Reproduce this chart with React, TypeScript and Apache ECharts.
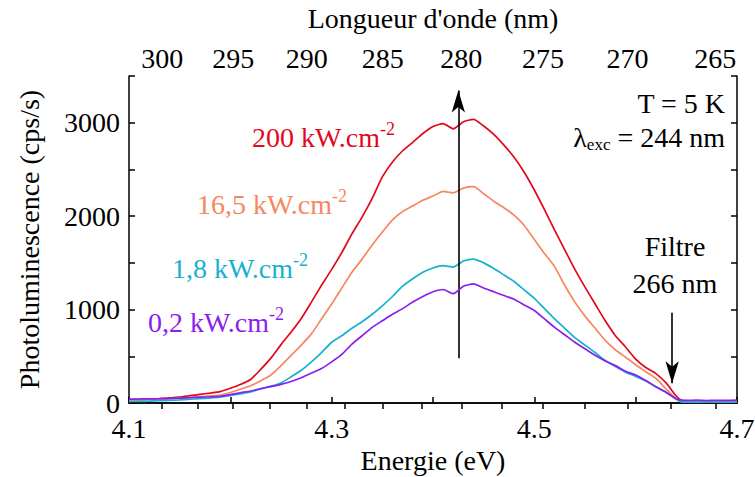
import React, { useEffect, useRef } from 'react';
import * as echarts from 'echarts';

// Photon energy grid (eV)
const energies: number[] = [
  4.10, 4.11, 4.12, 4.13, 4.14, 4.15, 4.16, 4.17, 4.18, 4.19,
  4.20, 4.21, 4.22, 4.23, 4.24, 4.25, 4.26, 4.27, 4.28, 4.29,
  4.30, 4.31, 4.32, 4.33, 4.34, 4.35, 4.36, 4.37, 4.38, 4.39,
  4.40, 4.41, 4.42, 4.43, 4.44, 4.45, 4.46, 4.47, 4.48, 4.49,
  4.50, 4.51, 4.52, 4.53, 4.54, 4.55, 4.56, 4.57, 4.58, 4.59,
  4.60, 4.61, 4.62, 4.63, 4.64, 4.645, 4.65, 4.66, 4.67, 4.68,
  4.69, 4.70,
];

// Photoluminescence (cps/s) for each excitation power density
const pl200: number[] = [
  35, 37, 42, 47, 55, 64, 78, 92, 106, 122,
  158, 198, 252, 360, 480, 625, 760, 905, 1080, 1260,
  1430, 1610, 1810, 1990, 2190, 2420, 2580, 2700, 2790, 2885,
  2960, 2990, 2935, 3010, 3035, 2965, 2875, 2760, 2630, 2470,
  2280, 2070, 1850, 1640, 1430, 1240, 1060, 880, 720, 600,
  470, 380, 315, 215, 75, 28, 22, 20, 23, 20,
  22, 20,
];
const pl165: number[] = [
  30, 32, 35, 39, 45, 51, 59, 67, 76, 86,
  112, 148, 185, 238, 300, 400, 510, 620, 740, 900,
  1060, 1230, 1400, 1540, 1690, 1830, 1960, 2050, 2110, 2170,
  2215, 2265, 2250, 2300, 2315, 2240, 2160, 2090, 2010, 1900,
  1750, 1600, 1460, 1260, 1080, 930, 800, 670, 570, 490,
  410, 335, 265, 150, 45, 18, 15, 14, 16, 15,
  14, 15,
];
const pl18: number[] = [
  15, 17, 20, 24, 28, 33, 40, 46, 53, 62,
  80, 98, 118, 150, 180, 215, 280, 350, 440, 540,
  650, 720, 800, 870, 950, 1040, 1140, 1250, 1330, 1400,
  1445, 1470, 1455, 1520, 1540, 1500, 1440, 1370, 1300, 1210,
  1120, 1010, 900, 800, 700, 620, 540, 455, 390, 330,
  285, 235, 170, 115, 40, 12, 10, 9, 11, 10,
  9, 10,
];
const pl02: number[] = [
  42, 43, 44, 46, 49, 53, 57, 62, 66, 72,
  90, 110, 128, 155, 175, 200, 230, 270, 320, 370,
  440, 520, 630, 720, 810, 880, 950, 1010, 1080, 1140,
  1190, 1215, 1170, 1250, 1275, 1230, 1190, 1150, 1110, 1050,
  990, 900, 810, 730, 650, 580, 510, 450, 400, 340,
  300, 240, 175, 115, 45, 30, 28, 30, 27, 29,
  28, 30,
];

const seriesNames: string[] = ['200 kW.cm-2', '16,5 kW.cm-2', '1,8 kW.cm-2', '0,2 kW.cm-2'];
const seriesColors: string[] = ['#e3071c', '#f6875f', '#16b1cf', '#8b1df1'];

// Axis ticks
const energyTicks: number[] = [4.1, 4.2, 4.3, 4.4, 4.5, 4.6, 4.7];
const energyLabels: number[] = [4.1, 4.3, 4.5, 4.7];
const yTickValues: number[] = [0, 500, 1000, 1500, 2000, 2500, 3000, 3500];
const wavelengthTicks: number[] = [300, 297.5, 295, 292.5, 290, 287.5, 285, 282.5, 280, 277.5, 275, 272.5, 270, 267.5, 265];
const wavelengthLabels: number[] = [300, 295, 290, 285, 280, 275, 270, 265];
const HC = 1239.84;

// Annotation arrows (energy, intensity)
const mainArrow: number[][] = [[4.425, 480], [4.425, 3345]];
const filterArrow: number[][] = [[4.636, 965], [4.636, 212]];

const FONT = 'Liberation Serif';
const FS = 28;

export default function App() {
  const ref = useRef<HTMLDivElement>(null);
  useEffect(() => {
    if (!ref.current) return;
    const chart = echarts.init(ref.current, null, { renderer: 'svg' });
    const all = [pl200, pl165, pl18, pl02];
    const axisLine = { show: true, lineStyle: { color: '#000', width: 1.5 } };
    const tick = { show: true, inside: true, length: 6, lineStyle: { color: '#000', width: 1.5 } };
    const labelStyle = { fontFamily: FONT, fontSize: FS, color: '#000' };
    const supRich = {
      sup: { fontSize: 18, fontFamily: FONT, padding: [0, 0, 16, 0] },
    };
    const labelText = (t: string) => t.replace(/-2$/, '{sup|-2}');
    const txt = (text: string, x: number, y: number, fill: string, align: string, extra: any = {}) => ({
      type: 'text', x, y,
      style: { text, fontFamily: FONT, fontSize: FS, fill, align, verticalAlign: 'middle', ...extra },
    });
    const option: any = {
      animation: false,
      backgroundColor: '#ffffff',
      grid: { left: 129, right: 18, top: 76, bottom: 74, containLabel: false, outerBoundsMode: 'none' },
      xAxis: [
        {
          type: 'value', position: 'bottom', min: 4.1, max: 4.7,
          name: 'Energie (eV)', nameLocation: 'middle', nameGap: 40,
          nameTextStyle: { ...labelStyle },
          axisLine, axisTick: { ...tick, customValues: energyTicks },
          axisLabel: { ...labelStyle, lineHeight: 20, margin: 15, customValues: energyLabels, formatter: (v: number) => v.toFixed(1) },
          splitLine: { show: false },
        },
        {
          type: 'value', position: 'top', min: 4.1, max: 4.7,
          name: "Longueur d'onde (nm)", nameLocation: 'middle', nameGap: 44,
          nameTextStyle: { ...labelStyle },
          axisLine, axisTick: { ...tick, customValues: wavelengthTicks.map((w) => HC / w) },
          axisLabel: { ...labelStyle, margin: 4, customValues: wavelengthLabels.map((w) => HC / w), formatter: (v: number) => String(Math.round(HC / v)) },
          splitLine: { show: false },
        },
      ],
      yAxis: [
        {
          type: 'value', position: 'left', min: 0, max: 3500, interval: 500,
          name: 'Photoluminescence (cps/s)', nameLocation: 'middle', nameGap: 86,
          nameTextStyle: { ...labelStyle },
          axisLine, axisTick: { ...tick, customValues: yTickValues },
          axisLabel: { ...labelStyle, lineHeight: 20, margin: 9, formatter: (v: number) => (v % 1000 === 0 ? String(v) : '') },
          splitLine: { show: false },
        },
        {
          type: 'value', position: 'right', min: 0, max: 3500, interval: 500,
          axisLine, axisTick: { ...tick, customValues: yTickValues },
          axisLabel: { show: false },
          splitLine: { show: false },
        },
      ],
      series: [
        ...all.map((vals, i) => ({
          type: 'line', name: seriesNames[i], xAxisIndex: 0, yAxisIndex: 0,
          data: energies.map((e, j) => [e, vals[j]]),
          showSymbol: false, symbol: 'none', smooth: 0.2,
          lineStyle: { color: seriesColors[i], width: 1.7 },
          itemStyle: { color: seriesColors[i] },
          z: 2 + i,
        })),
        {
          type: 'line', xAxisIndex: 0, yAxisIndex: 0, data: [], z: 10,
          markLine: {
            silent: true, symbol: ['none', 'arrow'], symbolSize: [10, 22],
            lineStyle: { color: '#000', width: 1.6, type: 'solid' },
            label: { show: false },
            data: [
              [{ coord: mainArrow[0] }, { coord: mainArrow[1] }],
              [{ coord: filterArrow[0] }, { coord: filterArrow[1] }],
            ],
          },
        },
      ],
      graphic: [
        txt('T = 5 K', 725, 103, '#000', 'right'),
        txt('λ{sub|exc} = 244 nm', 725, 137, '#000', 'right', {
          rich: { sub: { fontSize: 17, fontFamily: FONT, padding: [14, 0, 0, 0] } },
        }),
        txt('Filtre', 675, 246, '#000', 'center'),
        txt('266 nm', 675, 283, '#000', 'center'),
        txt(labelText(seriesNames[0]), 252, 137, seriesColors[0], 'left', { rich: supRich }),
        txt(labelText(seriesNames[1]), 197, 204, seriesColors[1], 'left', { rich: supRich }),
        txt(labelText(seriesNames[2]), 172, 268, seriesColors[2], 'left', { rich: supRich }),
        txt(labelText(seriesNames[3]), 148, 322, seriesColors[3], 'left', { rich: supRich }),
      ],
    };
    chart.setOption(option);
    return () => chart.dispose();
  }, []);
  return <div ref={ref} style={{ position: 'fixed', left: 0, top: 0, width: 755, height: 477 }} />;
}
